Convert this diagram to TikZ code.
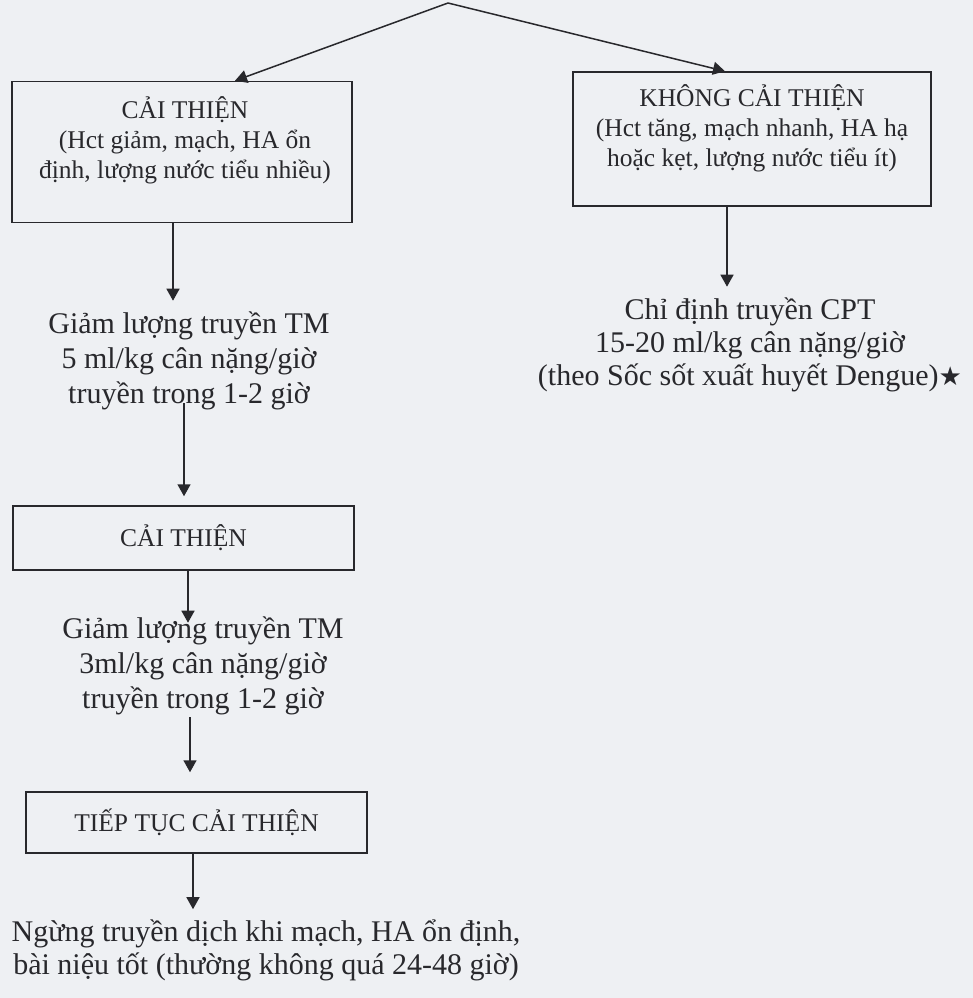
\documentclass[tikz,border=0pt]{standalone}
\usepackage{fontspec}
\setmainfont{Liberation Serif}
\newfontfamily\starfont{DejaVu Sans}
\usetikzlibrary{positioning,arrows.meta}
\definecolor{paper}{RGB}{238,240,243}
\definecolor{ink}{RGB}{40,40,44}

\begin{document}
\begin{tikzpicture}[
  x=1pt, y=-1pt,
  box/.style={draw=ink, line width=1.5pt, rectangle, minimum width=#1, inner sep=0pt},
  boxtext/.style={align=center, text=ink, inner sep=0pt, font=\fontsize{25.5}{30}\selectfont},
  steptext/.style={align=center, text=ink, inner sep=0pt, font=\fontsize{30}{#1}\selectfont},
  arr/.style={draw=ink, line width=1.5pt, -{Triangle[width=13pt,length=12pt]}},
]

% Page
\fill[paper] (0,0) rectangle (973,998);
\useasboundingbox (0,0) rectangle (973,998);

% Split point
\coordinate (top) at (448,3);

% Two outcomes
\node[box=340pt, minimum height=141pt] (cai1) at (182,152) {};
\node[boxtext] (cai1txt) at (185,140) {CẢI THIỆN\\(Hct giảm, mạch, HA ổn\\định, lượng nước tiểu nhiều)};
\node[box=358pt, minimum height=134pt] (khong) at (752,139) {};
\node[boxtext] (khongtxt) at (752,128) {KHÔNG CẢI THIỆN\\(Hct tăng, mạch nhanh, HA hạ\\hoặc kẹt, lượng nước tiểu ít)};

% Left branch
\node[steptext=35] (giam1) at (189,361) {Giảm lượng truyền TM\\5 ml/kg cân nặng/giờ\\truyền trong 1-2 giờ};
\node[box=341pt, minimum height=64pt, font=\fontsize{25.5}{30}\selectfont, text=ink] (cai2) at (183.5,538) {CẢI THIỆN};
\node[steptext=35] (giam2) at (203,666) {Giảm lượng truyền TM\\3ml/kg cân nặng/giờ\\truyền trong 1-2 giờ};
\node[box=341pt, minimum height=61pt, font=\fontsize{25.5}{30}\selectfont, text=ink] (tiep) at (196.5,822.5) {TIẾP TỤC CẢI THIỆN};
\node[steptext=33] (ngung) at (266,950) {Ngừng truyền dịch khi mạch, HA ổn định,\\bài niệu tốt (thường không quá 24-48 giờ)};

% Right branch
\node[steptext=33] (chidinh) at (750,345) {Chỉ định truyền CPT\\15-20 ml/kg cân nặng/giờ\\(theo Sốc sốt xuất huyết Dengue){\starfont\fontsize{26}{26}\selectfont ★}};

% Arrows
\draw[arr] (top) -- (cai1.north -| 235,0);
\draw[arr] (top) -- (khong.north -| 725,0);
\draw[arr] (cai1.south -| 173,0) -- ([yshift=11pt]giam1.north -| 173,0);
\draw[arr] (khong.south -| 727,0) -- ([yshift=11pt]chidinh.north -| 727,0);
\draw[arr] ([yshift=7pt]giam1.south -| 184,0) -- ([yshift=9pt]cai2.north -| 184,0);
\draw[arr] (cai2.south -| 188,0) -- ([yshift=-6pt]giam2.north -| 188,0);
\draw[arr] ([yshift=-2pt]giam2.south -| 190,0) -- ([yshift=19pt]tiep.north -| 190,0);
\draw[arr] (tiep.south -| 193,0) -- ([yshift=10pt]ngung.north -| 193,0);

\end{tikzpicture}
\end{document}
